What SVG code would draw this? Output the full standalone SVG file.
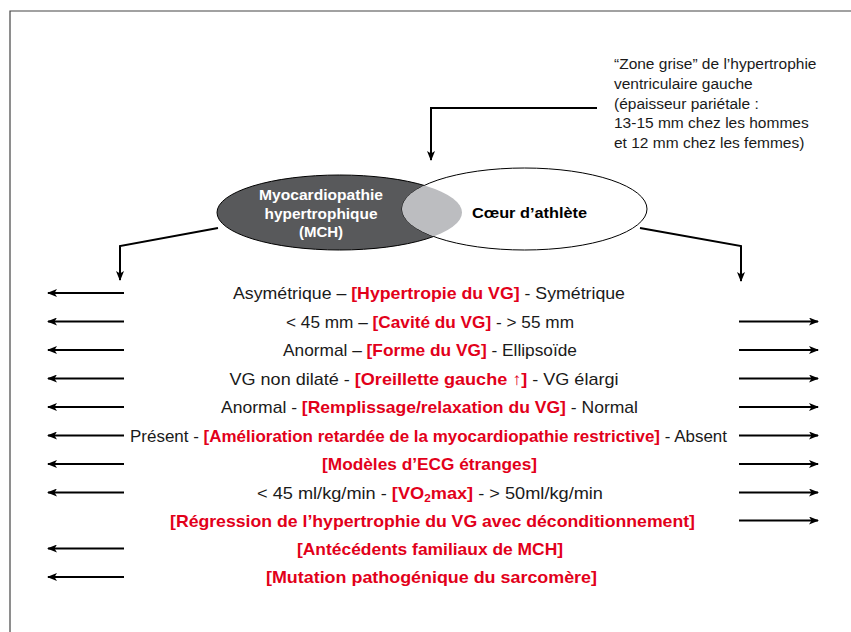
<svg xmlns="http://www.w3.org/2000/svg" width="851" height="632" viewBox="0 0 851 632">
<style>
.row{font-family:"Liberation Sans",Arial,sans-serif;font-size:17px;fill:#1a1a1a;text-anchor:middle}
.red{fill:#e2001a;font-weight:bold}
.note{font-family:"Liberation Sans",Arial,sans-serif;font-size:15.5px;fill:#1a1a1a}
.lab{font-family:"Liberation Sans",Arial,sans-serif;font-size:15px;font-weight:bold;text-anchor:middle}
.conn{fill:none;stroke:#000;stroke-width:2;marker-end:url(#ah)}
</style>
<defs>
<marker id="ah" viewBox="0 0 10 8" refX="9" refY="4" markerWidth="10" markerHeight="8" orient="auto" markerUnits="userSpaceOnUse">
<path d="M0,0 L10,4 L0,8 L2.5,4 z" fill="#000"/>
</marker>
<clipPath id="clipDark"><ellipse cx="339.5" cy="212.5" rx="122.5" ry="37.5"/></clipPath>
</defs>
<rect width="851" height="632" fill="#fff"/>
<path d="M10,632 V11 H851" fill="none" stroke="#444" stroke-width="1.2"/>

<g id="note">
<text class="note" x="614" y="69">“Zone grise” de l’hypertrophie</text>
<text class="note" x="614" y="89">ventriculaire gauche</text>
<text class="note" x="614" y="108.5">(épaisseur pariétale :</text>
<text class="note" x="614" y="128">13-15 mm chez les hommes</text>
<text class="note" x="614" y="147.5">et 12 mm chez les femmes)</text>
</g>

<g id="mch">
<ellipse cx="339.5" cy="212.5" rx="122.5" ry="37.5" fill="#58595b" stroke="#000" stroke-width="1"/>
</g>
<g id="athlete">
<ellipse cx="524.5" cy="209" rx="122.5" ry="41" fill="#fff" stroke="#000" stroke-width="1"/>
</g>
<g id="overlap">
<ellipse cx="524.5" cy="209" rx="122.5" ry="41" fill="#bcbdc0" clip-path="url(#clipDark)"/>
</g>
<g id="labels">
<text class="lab" x="321" y="200" fill="#fff" textLength="124" lengthAdjust="spacingAndGlyphs">Myocardiopathie</text>
<text class="lab" x="321" y="218.5" fill="#fff" textLength="113" lengthAdjust="spacingAndGlyphs">hypertrophique</text>
<text class="lab" x="321" y="237" fill="#fff">(MCH)</text>
<text class="lab" x="529.5" y="218" fill="#000" textLength="115" lengthAdjust="spacingAndGlyphs">Cœur d’athlète</text>
</g>

<g id="connectors">
<path class="conn" d="M597,108 H431 V160"/>
<path class="conn" d="M218,228 L120,246 V280"/>
<path class="conn" d="M640,228 L741,246 V281"/>
<path class="conn" d="M124,293 H48"/>
<path class="conn" d="M124,321.5 H48"/>
<path class="conn" d="M124,350 H48"/>
<path class="conn" d="M124,378.5 H48"/>
<path class="conn" d="M124,407 H48"/>
<path class="conn" d="M124,435.5 H48"/>
<path class="conn" d="M124,464 H48"/>
<path class="conn" d="M124,492.5 H48"/>
<path class="conn" d="M124,548.5 H48"/>
<path class="conn" d="M124,577 H48"/>
<path class="conn" d="M739,321.5 H818"/>
<path class="conn" d="M739,350 H818"/>
<path class="conn" d="M739,378.5 H818"/>
<path class="conn" d="M739,407 H818"/>
<path class="conn" d="M739,435.5 H818"/>
<path class="conn" d="M739,464 H818"/>
<path class="conn" d="M739,492.5 H818"/>
<path class="conn" d="M739,520.5 H818"/>
</g>

<g id="rows">
<text class="row" x="429" y="299" textLength="392" lengthAdjust="spacingAndGlyphs">Asymétrique – <tspan class="red">[Hypertropie du VG]</tspan> - Symétrique</text>
<text class="row" x="430" y="327.5" textLength="288" lengthAdjust="spacingAndGlyphs">&lt; 45 mm – <tspan class="red">[Cavité du VG]</tspan> - &gt; 55 mm</text>
<text class="row" x="430" y="356" textLength="294" lengthAdjust="spacingAndGlyphs">Anormal – <tspan class="red">[Forme du VG]</tspan> - Ellipsoïde</text>
<text class="row" x="424" y="384.5" textLength="389" lengthAdjust="spacingAndGlyphs">VG non dilaté - <tspan class="red">[Oreillette gauche <tspan font-weight="normal">↑</tspan>]</tspan> - VG élargi</text>
<text class="row" x="429.5" y="413" textLength="417" lengthAdjust="spacingAndGlyphs">Anormal - <tspan class="red">[Remplissage/relaxation du VG]</tspan> - Normal</text>
<text class="row" x="428.5" y="441.5" textLength="597" lengthAdjust="spacingAndGlyphs">Présent - <tspan class="red">[Amélioration retardée de la myocardiopathie restrictive]</tspan> - Absent</text>
<text class="row red" x="429.5" y="470" textLength="215" lengthAdjust="spacingAndGlyphs">[Modèles d’ECG étranges]</text>
<text class="row" x="430" y="498.5" textLength="346" lengthAdjust="spacingAndGlyphs">&lt; 45 ml/kg/min - <tspan class="red">[VO<tspan font-size="11" dy="3">2</tspan><tspan dy="-3">max]</tspan></tspan> - &gt; 50ml/kg/min</text>
<text class="row red" x="432.5" y="526.5" textLength="525" lengthAdjust="spacingAndGlyphs">[Régression de l’hypertrophie du VG avec déconditionnement]</text>
<text class="row red" x="430" y="555" textLength="266" lengthAdjust="spacingAndGlyphs">[Antécédents familiaux de MCH]</text>
<text class="row red" x="431.5" y="583" textLength="331" lengthAdjust="spacingAndGlyphs">[Mutation pathogénique du sarcomère]</text>
</g>
</svg>
